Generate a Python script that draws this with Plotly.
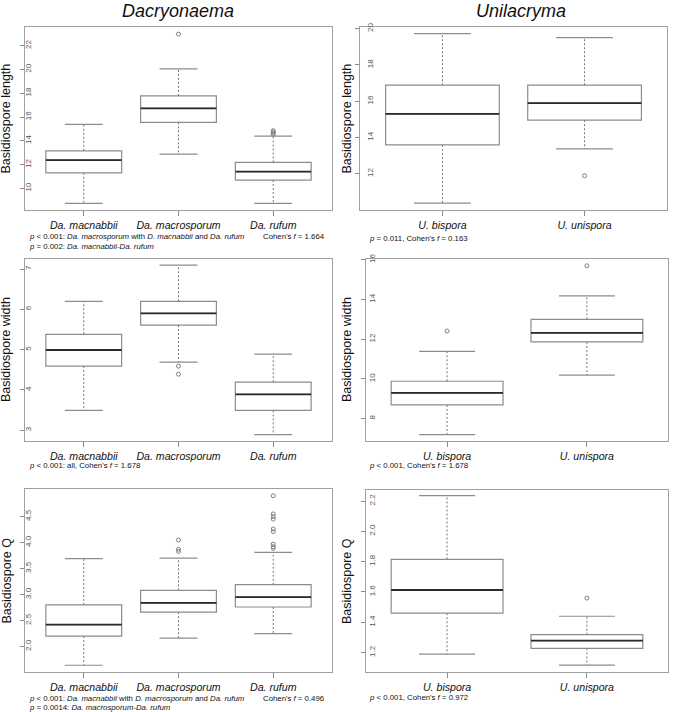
import plotly.graph_objects as go

# groups
dac_groups = ["Da. macnabbii", "Da. macrosporum", "Da. rufum"]
uni_groups = ["U. bispora", "U. unispora"]

# Dacryonaema - length
dl_lo = [8.74, 12.88, 8.74]
dl_q1 = [11.31, 15.55, 10.70]
dl_med = [12.38, 16.72, 11.40]
dl_q3 = [13.16, 17.78, 12.18]
dl_hi = [15.38, 20.05, 14.40]
dl_out = [[], [22.97], [14.55, 14.65, 14.75, 14.85]]

# Unilacryma - length
ul_lo = [10.38, 13.37]
ul_q1 = [13.59, 14.95]
ul_med = [15.30, 15.89]
ul_q3 = [16.88, 16.88]
ul_hi = [19.73, 19.50]
ul_out = [[], [11.89]]

# Dacryonaema - width
dw_lo = [3.49, 4.69, 2.89]
dw_q1 = [4.59, 5.61, 3.49]
dw_med = [4.99, 5.90, 3.89]
dw_q3 = [5.38, 6.20, 4.19]
dw_hi = [6.20, 7.10, 4.89]
dw_out = [[], [4.59, 4.39], []]

# Unilacryma - width
uw_lo = [7.19, 10.19]
uw_q1 = [8.69, 11.86]
uw_med = [9.29, 12.32]
uw_q3 = [9.88, 13.00]
uw_hi = [11.39, 14.18]
uw_out = [[12.41], [15.70]]

# Dacryonaema - Q
dq_lo = [1.64, 2.16, 2.25]
dq_q1 = [2.20, 2.66, 2.76]
dq_med = [2.42, 2.84, 2.95]
dq_q3 = [2.80, 3.08, 3.19]
dq_hi = [3.69, 3.70, 3.81]
dq_out = [[], [4.05, 3.87, 3.83], [4.90, 4.55, 4.50, 4.45, 4.26, 4.21, 3.97, 3.92, 3.89]]

# Unilacryma - Q
uq_lo = [1.19, 1.117]
uq_q1 = [1.46, 1.228]
uq_med = [1.613, 1.279]
uq_q3 = [1.815, 1.318]
uq_hi = [2.236, 1.44]
uq_out = [[], [1.56]]

W, H = 675, 712
BOXC = "#8c8c8c"
FONT = "Liberation Sans, Arial, sans-serif"

panels = [
    # groups, lo, q1, med, q3, hi, outliers, y range, ticks, fmt, ylabel, x px, y px, label standoff, title x
    (dac_groups, dl_lo, dl_q1, dl_med, dl_q3, dl_hi, dl_out, [8.18, 23.57], [10, 12, 14, 16, 18, 20, 22], "d",
     "Basidiospore length", (25, 332), (27, 210), -14, 6),
    (uni_groups, ul_lo, ul_q1, ul_med, ul_q3, ul_hi, ul_out, [10.0, 20.09], [12, 14, 16, 18, 20], "d",
     "Basidiospore length", (360, 667), (27, 210), -21, 347),
    (dac_groups, dw_lo, dw_q1, dw_med, dw_q3, dw_hi, dw_out, [2.73, 7.25], [3, 4, 5, 6, 7], "d",
     "Basidiospore width", (25, 332), (259, 441), -14, 6),
    (uni_groups, uw_lo, uw_q1, uw_med, uw_q3, uw_hi, uw_out, [6.87, 16.04], [8, 10, 12, 14, 16], "d",
     "Basidiospore width", (366, 668), (259, 441), -17, 347),
    (dac_groups, dq_lo, dq_q1, dq_med, dq_q3, dq_hi, dq_out, [1.51, 5.03], [2.0, 2.5, 3.0, 3.5, 4.0, 4.5], ".1f",
     "Basidiospore Q", (25, 332), (489, 672), -14, 6),
    (uni_groups, uq_lo, uq_q1, uq_med, uq_q3, uq_hi, uq_out, [1.072, 2.273], [1.2, 1.4, 1.6, 1.8, 2.0, 2.2], ".1f",
     "Basidiospore Q", (366, 668), (490, 672), -17, 347),
]

fig = go.Figure()
layout = {}
annotations = []

for k, (groups, lo, q1, med, q3, hi, outs, yr, yt, fmt, ylab, (x0, x1), (y0, y1), stand, tx) in enumerate(panels):
    n = k + 1
    xa = "x" if n == 1 else f"x{n}"
    ya = "y" if n == 1 else f"y{n}"
    pos = list(range(len(groups)))

    # box body (whiskers drawn separately so they can be dashed)
    fig.add_trace(go.Box(
        x=pos, q1=q1, median=med, q3=q3, lowerfence=q1, upperfence=q3,
        width=0.8, whiskerwidth=0, fillcolor="white",
        line=dict(color=BOXC, width=1.2), boxpoints=False,
        xaxis=xa, yaxis=ya, showlegend=False, hoverinfo="skip",
    ))

    wx, wy, cx, cy, mx, my = [], [], [], [], [], []
    for i in pos:
        wx += [i, i, None, i, i, None]
        wy += [q3[i], hi[i], None, q1[i], lo[i], None]
        cx += [i - 0.2, i + 0.2, None, i - 0.2, i + 0.2, None]
        cy += [hi[i], hi[i], None, lo[i], lo[i], None]
        mx += [i - 0.4, i + 0.4, None]
        my += [med[i], med[i], None]

    fig.add_trace(go.Scatter(x=wx, y=wy, mode="lines", line=dict(color="#777777", width=1, dash="2px,2px"),
                             xaxis=xa, yaxis=ya, showlegend=False, hoverinfo="skip"))
    fig.add_trace(go.Scatter(x=cx, y=cy, mode="lines", line=dict(color=BOXC, width=1.2),
                             xaxis=xa, yaxis=ya, showlegend=False, hoverinfo="skip"))
    fig.add_trace(go.Scatter(x=mx, y=my, mode="lines", line=dict(color="#2a2a2a", width=1.8),
                             xaxis=xa, yaxis=ya, showlegend=False, hoverinfo="skip"))

    ox, oy = [], []
    for i in pos:
        ox += [i] * len(outs[i])
        oy += outs[i]
    fig.add_trace(go.Scatter(x=ox, y=oy, mode="markers",
                             marker=dict(symbol="circle-open", size=4, color="#808080", line=dict(width=1)),
                             xaxis=xa, yaxis=ya, showlegend=False, hoverinfo="skip"))

    ng = len(groups)
    pad = 0.04 * ng
    layout["xaxis" if n == 1 else f"xaxis{n}"] = dict(
        domain=[x0 / W, x1 / W], anchor=ya, range=[-0.5 - pad, ng - 0.5 + pad],
        tickvals=pos, ticktext=[f"<i>{g}</i>" for g in groups],
        ticks="outside", ticklen=5, tickcolor="#888", showgrid=False, zeroline=False,
        showline=True, linecolor="#a0a0a0", linewidth=1, mirror=True, automargin=False,
        tickfont=dict(family=FONT, size=10.6, color="#111"),
    )
    layout["yaxis" if n == 1 else f"yaxis{n}"] = dict(
        domain=[1 - y1 / H, 1 - y0 / H], anchor=xa, range=yr,
        tickvals=yt, tickformat=fmt, tickangle=-90, ticklabelstandoff=stand,
        ticks="outside", ticklen=4, tickcolor="#888", showgrid=False, zeroline=False,
        showline=True, linecolor="#a0a0a0", linewidth=1, mirror=True, automargin=False,
        tickfont=dict(family=FONT, size=8, color="#555"),
    )
    annotations.append(dict(
        text=ylab, textangle=-90, x=tx / W, y=1 - (y0 + y1) / 2 / H,
        xref="paper", yref="paper", showarrow=False, xanchor="center", yanchor="middle",
        font=dict(family=FONT, size=12.5, color="#111"),
    ))

# column titles
for txt, xc in [("Dacryonaema", 178), ("Unilacryma", 521)]:
    annotations.append(dict(text=f"<i>{txt}</i>", x=xc / W, y=1 - 10.5 / H, xref="paper", yref="paper",
                            showarrow=False, xanchor="center", yanchor="middle",
                            font=dict(family=FONT, size=18, color="#111")))

# statistics notes
notes = [
    ("<i>p</i> < 0.001: <i>Da. macrosporum</i> with <i>D. macnabbii</i> and <i>Da. rufum</i>", 27, 237),
    ("Cohen's <i>f</i> = 1.664", 261, 237),
    ("<i>p</i> = 0.002: <i>Da. macnabbii-Da. rufum</i>", 27, 246.5),
    ("<i>p</i> = 0.011, Cohen's <i>f</i> = 0.163", 367, 238),
    ("<i>p</i> < 0.001: all, Cohen's <i>f</i> = 1.678", 27, 465.5),
    ("<i>p</i> < 0.001, Cohen's <i>f</i> = 1.678", 367, 465.5),
    ("<i>p</i> < 0.001: <i>Da. macnabbii</i> with <i>D. macrosporum</i> and <i>Da. rufum</i>", 27, 698.5),
    ("Cohen's <i>f</i> = 0.496", 261, 698.5),
    ("<i>p</i> = 0.0014: <i>Da. macrosporum-Da. rufum</i>", 27, 707.3),
    ("<i>p</i> < 0.001, Cohen's <i>f</i> = 0.972", 367, 697.5),
]
for txt, px_, py_ in notes:
    annotations.append(dict(text=txt, x=px_ / W, y=1 - py_ / H, xref="paper", yref="paper",
                            showarrow=False, xanchor="left", yanchor="middle",
                            font=dict(family=FONT, size=7.8, color="#111")))

fig.update_layout(
    width=W, height=H, margin=dict(l=0, r=0, t=0, b=0),
    paper_bgcolor="white", plot_bgcolor="white",
    annotations=annotations, **layout,
)

# drop the browser's default body margin so the figure sits at the page corner
fig.write_html("out.html", config={"displayModeBar": False},
               post_script="document.body.style.margin='0';")
